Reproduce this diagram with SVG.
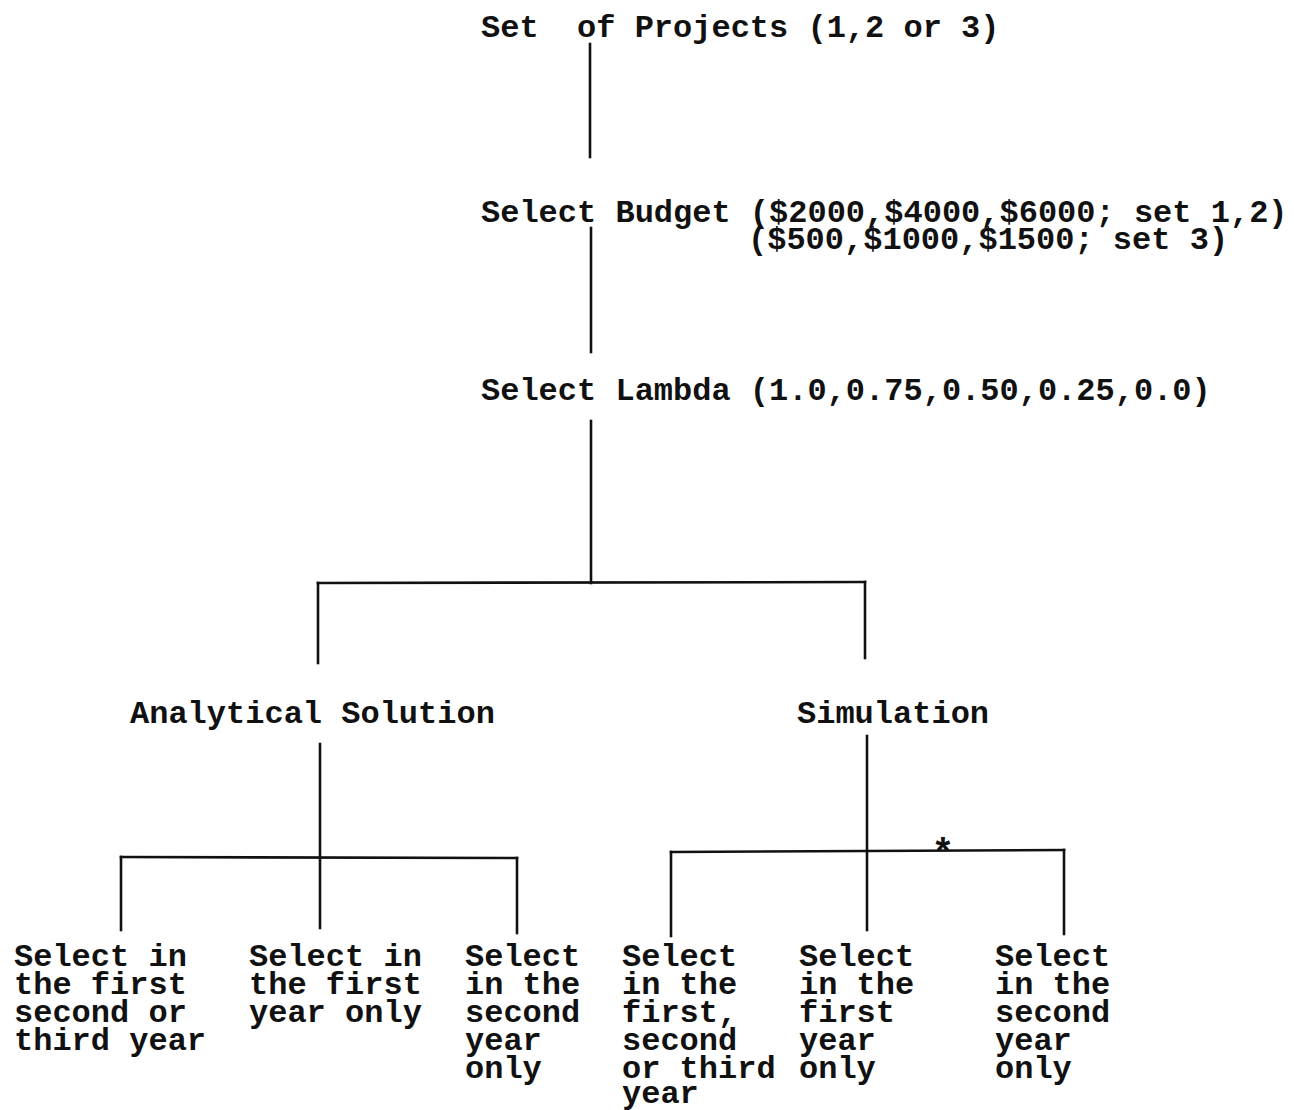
<svg xmlns="http://www.w3.org/2000/svg" width="1294" height="1110" viewBox="0 0 1294 1110">
<style>
text{font-family:"Liberation Mono","Courier New",monospace;font-size:32px;font-weight:bold;fill:#111}
.c line{stroke:#111;stroke-width:2.6;stroke-linecap:square}
</style>
<rect width="1294" height="1110" fill="#fff"/>
<g id="connectors" class="c">
<line x1="590" y1="44" x2="590" y2="157"/>
<line x1="591" y1="228" x2="591" y2="352"/>
<line x1="591" y1="421" x2="591" y2="583"/>
<line x1="318" y1="583" x2="865" y2="582"/>
<line x1="318" y1="583" x2="318" y2="663"/>
<line x1="865" y1="582" x2="865" y2="658"/>
<line x1="320" y1="744" x2="320" y2="928"/>
<line x1="121" y1="857" x2="517" y2="858"/>
<line x1="121" y1="857" x2="121" y2="930"/>
<line x1="517" y1="858" x2="517" y2="933"/>
<line x1="867" y1="736" x2="867" y2="930"/>
<line x1="671" y1="852" x2="1064" y2="850"/>
<line x1="671" y1="852" x2="671" y2="936"/>
<line x1="1064" y1="850" x2="1064" y2="934"/>
<text x="943" y="865" text-anchor="middle" style="font-size:38px">*</text>
</g>
<g id="projects"><text x="481" y="37" xml:space="preserve">Set  of Projects (1,2 or 3)</text></g>
<g id="budget">
<text x="481" y="222">Select Budget ($2000,$4000,$6000; set 1,2)</text>
<text x="748" y="249">($500,$1000,$1500; set 3)</text>
</g>
<g id="lambda"><text x="481" y="400">Select Lambda (1.0,0.75,0.50,0.25,0.0)</text></g>
<g id="analytical"><text x="130" y="723">Analytical Solution</text></g>
<g id="simulation"><text x="797" y="723">Simulation</text></g>
<g id="a1"><text x="14" y="966">Select in</text><text x="14" y="994">the first</text><text x="14" y="1022">second or</text><text x="14" y="1050">third year</text></g>
<g id="a2"><text x="249" y="966">Select in</text><text x="249" y="994">the first</text><text x="249" y="1022">year only</text></g>
<g id="a3"><text x="465" y="966">Select</text><text x="465" y="994">in the</text><text x="465" y="1022">second</text><text x="465" y="1050">year</text><text x="465" y="1078">only</text></g>
<g id="s1"><text x="622" y="966">Select</text><text x="622" y="994">in the</text><text x="622" y="1022">first,</text><text x="622" y="1050">second</text><text x="622" y="1078">or third</text><text x="622" y="1103">year</text></g>
<g id="s2"><text x="799" y="966">Select</text><text x="799" y="994">in the</text><text x="799" y="1022">first</text><text x="799" y="1050">year</text><text x="799" y="1078">only</text></g>
<g id="s3"><text x="995" y="966">Select</text><text x="995" y="994">in the</text><text x="995" y="1022">second</text><text x="995" y="1050">year</text><text x="995" y="1078">only</text></g>
</svg>
